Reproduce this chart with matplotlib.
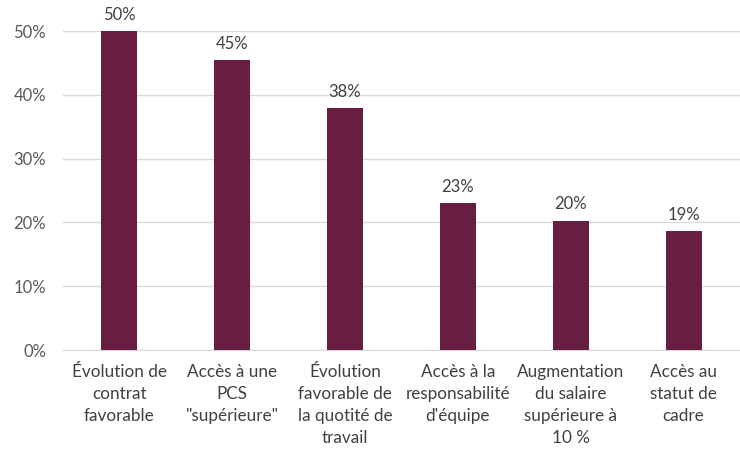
import matplotlib
matplotlib.use("Agg")
import matplotlib.pyplot as plt
from matplotlib.ticker import FuncFormatter

categories = [
    "Évolution de\ncontrat\nfavorable",
    "Accès à une\nPCS\n\"supérieure\"",
    "Évolution\nfavorable de\nla quotité de\ntravail",
    "Accès à la\nresponsabilité\nd'équipe",
    "Augmentation\ndu salaire\nsupérieure à\n10 %",
    "Accès au\nstatut de\ncadre",
]
values = [50.0, 45.4, 37.9, 23.0, 20.3, 18.6]
labels = ["50%", "45%", "38%", "23%", "20%", "19%"]

plt.rcParams['font.family'] = ['Lato', 'DejaVu Sans']

fig = plt.figure(figsize=(7.4, 4.5), dpi=100)
ax = fig.add_axes([0.085, 0.222, 0.915, 0.709])

x = range(len(categories))
bars = ax.bar(x, values, width=0.32, color="#681E41", zorder=3)

for b, lab in zip(bars, labels):
    ax.annotate(lab, (b.get_x() + b.get_width() / 2, b.get_height()),
                xytext=(0, 6), textcoords="offset points",
                ha="center", va="bottom", fontsize=12, color="#404040")

ax.set_ylim(0, 50)
ax.set_xlim(-0.5, len(categories) - 0.5)
ax.set_yticks([0, 10, 20, 30, 40, 50])
ax.yaxis.set_major_formatter(FuncFormatter(lambda v, p: f"{int(v)}%"))
ax.grid(axis="y", color="#d9d9d9", linewidth=1, zorder=0)

ax.set_xticks(list(x))
ax.set_xticklabels(categories, fontsize=12.3, color="#404040", linespacing=1.45)
ax.tick_params(axis="y", labelsize=12, labelcolor="#595959", length=0, pad=12)
ax.tick_params(axis="x", length=0, pad=10)

for s in ["top", "right", "left"]:
    ax.spines[s].set_visible(False)
ax.spines["bottom"].set_color("#d9d9d9")

fig.savefig("out.png", dpi=100)
